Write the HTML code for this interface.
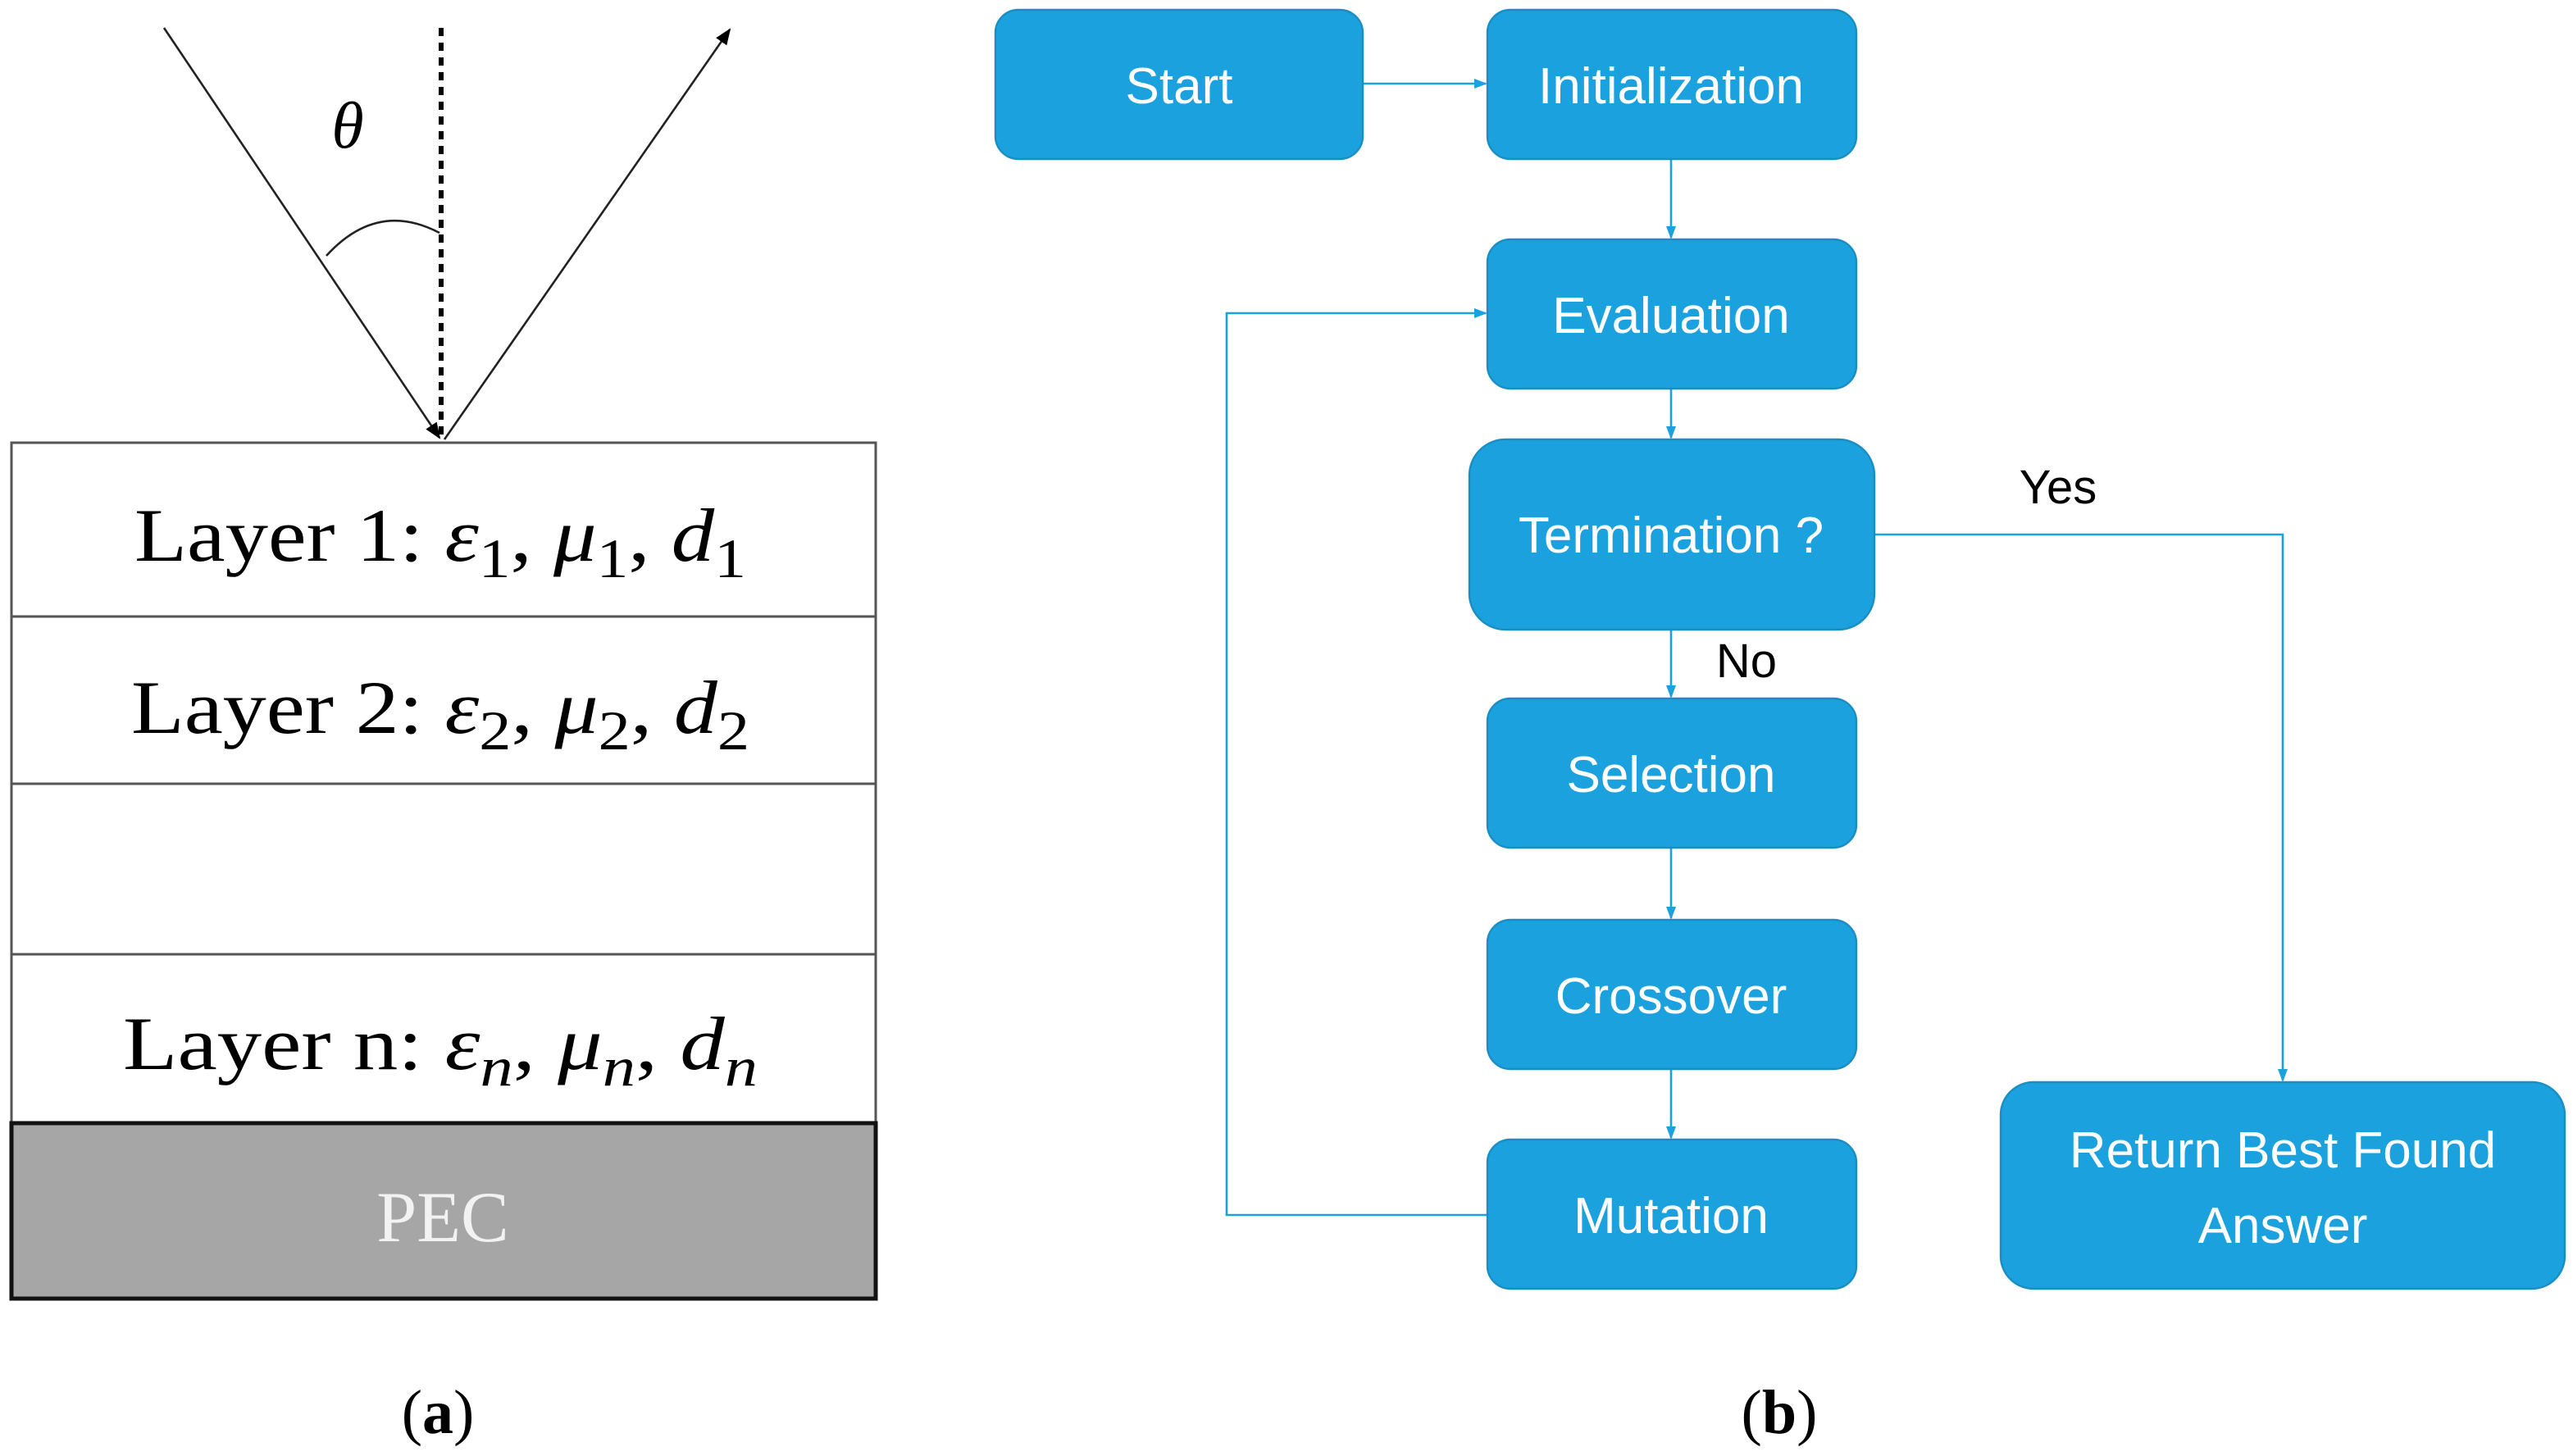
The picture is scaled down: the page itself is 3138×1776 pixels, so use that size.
<!DOCTYPE html>
<html><head><meta charset="utf-8"><style>
html,body{margin:0;padding:0;background:#fff;}
svg{display:block;}
.bx{fill:#1ba1dd;stroke:#1a8ec2;stroke-width:1.2;}
.bt{fill:#fff;font-family:"Liberation Sans",sans-serif;font-size:31px;text-anchor:middle;}
.cn{stroke:#1ba1dd;stroke-width:1.3;fill:none;}
.lt{font-family:"Liberation Serif",serif;font-size:46px;fill:#000;}
</style></head><body>
<svg width="3138" height="1776" viewBox="0 0 1569 888" xmlns="http://www.w3.org/2000/svg">
<defs>
<marker id="a" markerWidth="8" markerHeight="8" refX="7" refY="4" orient="auto" markerUnits="userSpaceOnUse"><path d="M0,1 L8,4 L0,7 z" fill="#1ba1dd"/></marker>
<marker id="k" markerWidth="10" markerHeight="10" refX="9" refY="5" orient="auto" markerUnits="userSpaceOnUse"><path d="M0,1 L10,5 L0,9 z" fill="#000"/></marker>
</defs>
<line x1="100" y1="17" x2="268" y2="267" stroke="#222" stroke-width="1.3" marker-end="url(#k)"/>
<line x1="269" y1="17" x2="269" y2="266" stroke="#000" stroke-width="3" stroke-dasharray="5,4"/>
<line x1="271" y1="268" x2="445" y2="18" stroke="#222" stroke-width="1.3" marker-end="url(#k)"/>
<path d="M199,156 Q230,122 268,142" stroke="#222" stroke-width="1.3" fill="none"/>
<text x="212" y="90" font-family="Liberation Serif,serif" font-style="italic" font-size="40" text-anchor="middle">θ</text>
<rect x="7" y="270" width="527" height="415" fill="#fff" stroke="#555" stroke-width="1.5"/>
<line x1="7" y1="376" x2="534" y2="376" stroke="#555" stroke-width="1.5"/>
<line x1="7" y1="478" x2="534" y2="478" stroke="#555" stroke-width="1.5"/>
<line x1="7" y1="582" x2="534" y2="582" stroke="#555" stroke-width="1.5"/>
<rect x="7" y="685" width="527" height="107" fill="#a6a6a6" stroke="#111" stroke-width="2.5"/>
<text class="lt" x="82" y="342" textLength="373" lengthAdjust="spacingAndGlyphs">Layer 1: <tspan font-style="italic">ε</tspan><tspan font-size="34" dy="10">1</tspan><tspan dy="-10">, </tspan><tspan font-style="italic">μ</tspan><tspan font-size="34" dy="10">1</tspan><tspan dy="-10">, </tspan><tspan font-style="italic">d</tspan><tspan font-size="34" dy="10">1</tspan></text>
<text class="lt" x="80" y="447" textLength="377" lengthAdjust="spacingAndGlyphs">Layer 2: <tspan font-style="italic">ε</tspan><tspan font-size="34" dy="10">2</tspan><tspan dy="-10">, </tspan><tspan font-style="italic">μ</tspan><tspan font-size="34" dy="10">2</tspan><tspan dy="-10">, </tspan><tspan font-style="italic">d</tspan><tspan font-size="34" dy="10">2</tspan></text>
<text class="lt" x="75" y="652" textLength="387" lengthAdjust="spacingAndGlyphs">Layer n: <tspan font-style="italic">ε</tspan><tspan font-size="34" font-style="italic" dy="10">n</tspan><tspan dy="-10">, </tspan><tspan font-style="italic">μ</tspan><tspan font-size="34" font-style="italic" dy="10">n</tspan><tspan dy="-10">, </tspan><tspan font-style="italic">d</tspan><tspan font-size="34" font-style="italic" dy="10">n</tspan></text>
<text x="270" y="757" font-family="Liberation Serif,serif" font-size="44" text-anchor="middle" fill="#f2f2f2">PEC</text>
<text x="267" y="874" font-family="Liberation Serif,serif" font-size="38" text-anchor="middle">(<tspan font-weight="bold">a</tspan>)</text>
<text x="1085" y="874" font-family="Liberation Serif,serif" font-size="38" text-anchor="middle">(<tspan font-weight="bold">b</tspan>)</text>
<line class="cn" x1="831" y1="51" x2="906" y2="51" marker-end="url(#a)"/>
<line class="cn" x1="1019" y1="97" x2="1019" y2="145" marker-end="url(#a)"/>
<line class="cn" x1="1019" y1="237" x2="1019" y2="267" marker-end="url(#a)"/>
<line class="cn" x1="1019" y1="384" x2="1019" y2="425" marker-end="url(#a)"/>
<line class="cn" x1="1019" y1="517" x2="1019" y2="560" marker-end="url(#a)"/>
<line class="cn" x1="1019" y1="652" x2="1019" y2="694" marker-end="url(#a)"/>
<polyline class="cn" points="907,741 748,741 748,191 906,191" marker-end="url(#a)"/>
<polyline class="cn" points="1143,326 1392,326 1392,659" marker-end="url(#a)"/>
<text x="1255" y="307" font-family="Liberation Sans,sans-serif" font-size="29" text-anchor="middle">Yes</text>
<text x="1065" y="413" font-family="Liberation Sans,sans-serif" font-size="29" text-anchor="middle">No</text>
<rect class="bx" x="607" y="6" width="224" height="91" rx="14"/><text class="bt" x="719" y="63">Start</text>
<rect class="bx" x="907" y="6" width="225" height="91" rx="14"/><text class="bt" x="1019" y="63">Initialization</text>
<rect class="bx" x="907" y="146" width="225" height="91" rx="14"/><text class="bt" x="1019" y="203">Evaluation</text>
<rect class="bx" x="896" y="268" width="247" height="116" rx="22"/><text class="bt" x="1019" y="337">Termination ?</text>
<rect class="bx" x="907" y="426" width="225" height="91" rx="14"/><text class="bt" x="1019" y="483">Selection</text>
<rect class="bx" x="907" y="561" width="225" height="91" rx="14"/><text class="bt" x="1019" y="618">Crossover</text>
<rect class="bx" x="907" y="695" width="225" height="91" rx="14"/><text class="bt" x="1019" y="752">Mutation</text>
<rect class="bx" x="1220" y="660" width="344" height="126" rx="20"/>
<text class="bt" x="1392" y="712">Return Best Found</text><text class="bt" x="1392" y="758">Answer</text>
</svg>
</body></html>
